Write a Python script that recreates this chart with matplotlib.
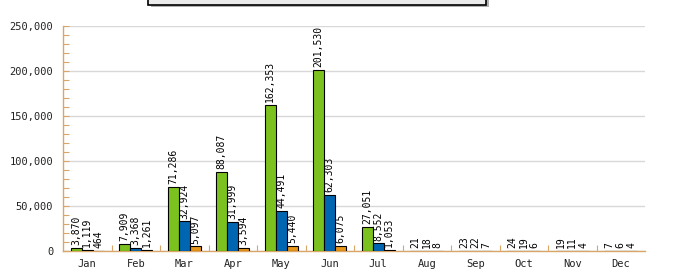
import numpy as np
import matplotlib
matplotlib.use("Agg")
import matplotlib.pyplot as plt
from matplotlib.patches import Rectangle
from matplotlib.ticker import MultipleLocator, FuncFormatter

months = ["Jan", "Feb", "Mar", "Apr", "May", "Jun", "Jul", "Aug", "Sep", "Oct", "Nov", "Dec"]
green_vals = [3870, 7909, 71286, 88087, 162353, 201530, 27051, 21, 23, 24, 19, 7]
blue_vals = [1119, 3368, 32924, 31999, 44491, 62303, 8552, 18, 22, 19, 11, 6]
orange_vals = [464, 1261, 5097, 3594, 5440, 6075, 1053, 8, 7, 6, 4, 4]

colours = ["#7CC21F", "#0066B2", "#E8961A"]
axis_col = "#D9A66A"
font = "DejaVu Sans Mono"

fig = plt.figure(figsize=(6.73, 2.77), dpi=100)
ax = fig.add_axes([63 / 673, 1 - 251 / 277, (645 - 63) / 673, (251 - 26) / 277])

x = np.arange(len(months))
w = 0.227
for i, vals in enumerate([green_vals, blue_vals, orange_vals]):
    pos = x + (i - 1) * w
    ax.bar(pos, vals, w, color=colours[i], edgecolor="black", linewidth=0.8, zorder=3)
    for p, v in zip(pos, vals):
        ax.annotate(f"{v:,}", (p, v), xytext=(0, 2), textcoords="offset points",
                    rotation=90, ha="center", va="bottom", fontsize=7,
                    family=font, color="black", zorder=4)

ax.set_xlim(-0.5, 11.5)
ax.set_ylim(0, 250000)
ax.yaxis.set_major_locator(MultipleLocator(50000))
ax.yaxis.set_minor_locator(MultipleLocator(10000))
ax.yaxis.set_major_formatter(FuncFormatter(lambda v, p: f"{int(v):,}"))
ax.grid(axis="y", which="major", color="#D8D8D8", linewidth=1, zorder=0)

ax.set_xticks(x)
ax.set_xticklabels(months)
ax.set_xticks(np.arange(0.5, 11.5, 1), minor=True)

for s in ["top", "right"]:
    ax.spines[s].set_visible(False)
for s in ["left", "bottom"]:
    ax.spines[s].set_color(axis_col)
    ax.spines[s].set_linewidth(1)

ax.tick_params(axis="y", which="both", direction="in", color=axis_col, length=4, width=0.8,
               labelsize=7.5, pad=7, labelcolor="#222222")
ax.tick_params(axis="x", which="major", length=0, labelsize=7.5, pad=6, labelcolor="#222222")
ax.tick_params(axis="x", which="minor", direction="in", color=axis_col, length=4, width=0.8)
for lab in ax.get_xticklabels() + ax.get_yticklabels():
    lab.set_family(font)

# legend box at the top (cut off by the figure edge)
fig.patches.append(Rectangle((151 / 673, 1 - 7 / 277), 338 / 673, 0.1,
                             transform=fig.transFigure, facecolor="#B0B0B0",
                             edgecolor="none", zorder=1))
fig.patches.append(Rectangle((148 / 673, 1 - 5 / 277), 338 / 673, 0.1,
                             transform=fig.transFigure, facecolor="#EBEBEB",
                             edgecolor="black", linewidth=1.2, zorder=2))

fig.savefig("out.png", dpi=100)
